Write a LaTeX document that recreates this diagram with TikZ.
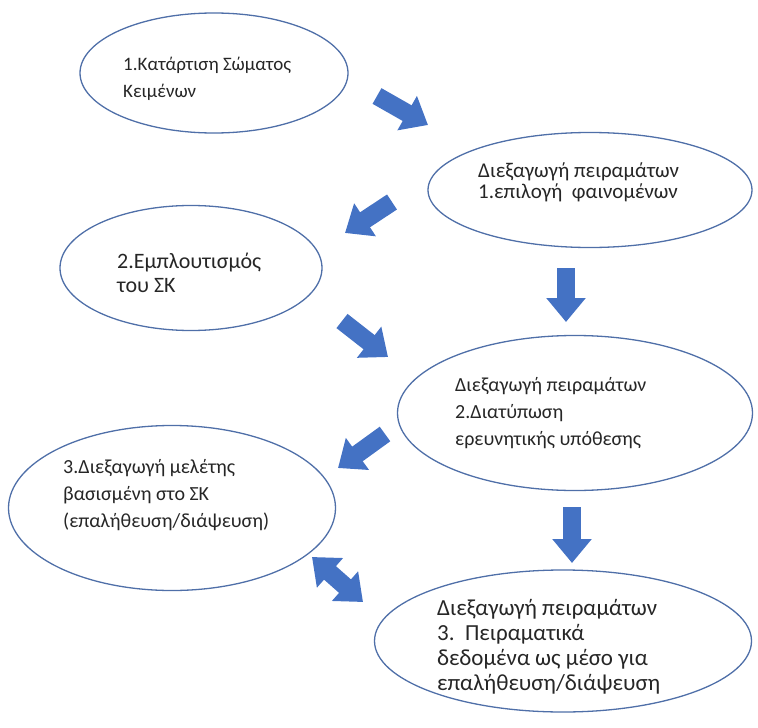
\documentclass[tikz,border=0pt]{standalone}
\usepackage{fontspec}
\setmainfont{Carlito}
\usetikzlibrary{arrows.meta,shapes.geometric}

\definecolor{rim}{HTML}{4F6FA8}
\definecolor{arrowblue}{HTML}{4472C4}

\tikzset{
  bubble/.style={ellipse,draw=rim,line width=1.3pt,inner sep=0pt},
  caption/.style={anchor=base west,align=left,inner sep=0pt,text=black!85},
  blockarrow/.style={draw=arrowblue,line width=18pt,
    -{Triangle[width=38pt,length=24pt]}},
  twinarrow/.style={draw=arrowblue,line width=18pt,
    {Triangle[width=38pt,length=24pt]}-{Triangle[width=38pt,length=24pt]}}
}

\begin{document}
\begin{tikzpicture}[x=1pt,y=-1pt]
        \useasboundingbox (0,0) rectangle (758,728);

        \begin{scope}[every node/.style={bubble}]
          \node[minimum width=268pt,minimum height=120pt] (e1) at (214,73)  {};
          \node[minimum width=324pt,minimum height=115pt] (e2) at (590,190) {};
          \node[minimum width=262pt,minimum height=125pt] (e3) at (191,268) {};
          \node[minimum width=355pt,minimum height=155pt] (e4) at (575,413) {};
          \node[minimum width=327pt,minimum height=165pt] (e5) at (172,508) {};
          \node[minimum width=377pt,minimum height=142pt] (e6) at (563,641) {};
        \end{scope}

        % captions sit on the baseline of their last line
        \begin{scope}[every node/.style={caption}]
          \node[font=\fontsize{19}{27}\selectfont] (t1) at (123,97)  {1.Κατάρτιση Σώματος\\Κειμένων};
          \node[font=\fontsize{21}{21}\selectfont] (t2) at (478,198) {Διεξαγωγή πειραμάτων\\1.επιλογή\ \ φαινομένων};
          \node[font=\fontsize{22}{24}\selectfont] (t3) at (117,292) {2.Εμπλουτισμός\\του ΣΚ};
          \node[font=\fontsize{20}{27}\selectfont] (t4) at (455,445) {Διεξαγωγή πειραμάτων\\2.Διατύπωση\\ερευνητικής υπόθεσης};
          \node[font=\fontsize{20}{27}\selectfont] (t5) at (63,527)  {3.Διεξαγωγή μελέτης\\βασισμένη στο ΣΚ\\(επαλήθευση/διάψευση)};
          \node[font=\fontsize{23}{25}\selectfont] (t6) at (437,690) {Διεξαγωγή πειραμάτων\\3.\ \ Πειραματικά\\δεδομένα ως μέσο για\\επαλήθευση/διάψευση};
        \end{scope}

        % ends of the block arrows
        \coordinate (a1) at (377,96);  \coordinate (b1) at (428,125);
        \coordinate (a2) at (392,202); \coordinate (b2) at (345,233);
        \coordinate (a3) at (566,268); \coordinate (b3) at (566,322);
        \coordinate (a4) at (342,321); \coordinate (b4) at (388,357);
        \coordinate (a5) at (385,434); \coordinate (b5) at (338,468);
        \coordinate (a6) at (572,507); \coordinate (b6) at (572,563);
        \coordinate (a7) at (312,557); \coordinate (b7) at (363,602);

        \begin{scope}[every edge/.style={blockarrow}]
          \path (a1) edge (b1);
          \path (a2) edge (b2);
          \path (a3) edge (b3);
          \path (a4) edge (b4);
          \path (a5) edge (b5);
          \path (a6) edge (b6);
          \path (a7) edge[twinarrow] (b7);
        \end{scope}

      \end{tikzpicture}
\end{document}
